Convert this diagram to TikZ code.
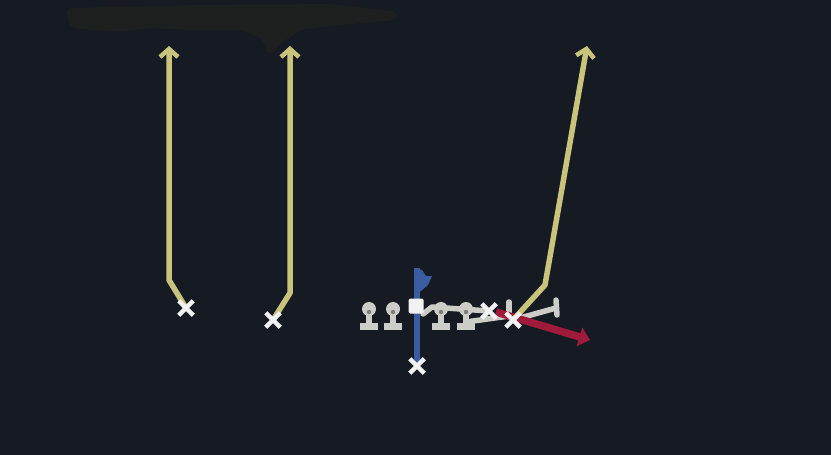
\documentclass[tikz,border=0pt]{standalone}
\usetikzlibrary{arrows.meta,shapes.misc}
\definecolor{bgc}{RGB}{22,26,35}
\definecolor{blobc}{RGB}{29,32,30}
\definecolor{routec}{RGB}{200,196,124}
\definecolor{bluec}{RGB}{58,92,160}
\definecolor{redc}{RGB}{160,26,60}
\definecolor{grayc}{RGB}{205,205,200}
\definecolor{xc}{RGB}{242,242,242}
\tikzset{
  route/.style={draw=routec,line width=5.5pt,line join=round,
    -{Straight Barb[length=8pt,width=18pt,line width=4.5pt]}},
  blockline/.style={draw=grayc,line width=5.5pt,line join=round,line cap=round},
  xmark/.style={cross out,draw=xc,line width=4.5pt,minimum size=10pt,inner sep=0pt},
}
\begin{document}
\begin{tikzpicture}[x=1pt,y=-1pt]
\useasboundingbox (0,0) rectangle (831,455);
\fill[bgc] (0,0) rectangle (831,455);
% faint smudge at top
\fill[blobc,rounded corners=6pt] (66,8) -- (200,5) -- (330,4) -- (398,12) -- (396,20)
  -- (330,26) -- (300,30) -- (280,44) -- (268,56) -- (262,38) -- (240,30) -- (190,30)
  -- (150,28) -- (120,32) -- (95,30) -- (70,28) -- cycle;

% player positions
\coordinate (p1) at (186,308);
\coordinate (p2) at (273,320);
\coordinate (p3) at (513,320);
\coordinate (p4) at (489,311);
\coordinate (qb) at (417,366);
% route points
\coordinate (b1) at (169,280);
\coordinate (t1) at (169,46);
\coordinate (b2) at (290,293);
\coordinate (t2) at (290,46);
\coordinate (b3) at (545,285);
\coordinate (t3) at (587,46);
\coordinate (redstart) at (496,312);
\coordinate (redend) at (590,340);

% receiver routes
\draw[route] (p1) -- (b1) -- (t1);
\draw[route] (p2) -- (b2) -- (t2);

% blue line with flag
\coordinate (flagtop) at (417,268);
\draw[draw=bluec,line width=6pt] (flagtop) -- (qb);
\fill[bluec] (414,268) -- (422,270) -- (426,276) -- (432,276) -- (428,285) -- (421,291) -- (414,293) -- cycle;

% blocking lines
\draw[blockline] (423,314) -- (432,307) -- (p4);
\draw[blockline] (466,322) -- (509,316);
\draw[blockline] (509,302) -- (509,317);
\draw[blockline] (p3) -- (556,308);
\draw[blockline] (556,300) -- (557,315);

% linemen icons
\foreach \x in {369,393,441,466}{
  \fill[grayc] (\x,309) circle (7pt);
  \fill[grayc] (\x-3,309) rectangle (\x+3,327);
  \fill[grayc] (\x-9,323) rectangle (\x+9,330);
  \fill[grayc!55!bgc] (\x,312) circle (2.2pt);
}

% center
\node[fill=xc,minimum size=15pt,inner sep=0pt,rounded corners=1.5pt] (center) at (416,306) {};

% red arrow
\draw[draw=redc,line width=7.5pt,-{Triangle[length=11pt,width=19pt]}] (redstart) -- (redend);

% yellow route of p3
\draw[route] (p3) -- (b3) -- (t3);

% X marks
\node[xmark] (x1) at (p1) {};
\node[xmark] (x2) at (p2) {};
\node[xmark] (x3) at (p3) {};
\node[xmark] (x4) at (p4) {};
\node[xmark] (x5) at (qb) {};
\end{tikzpicture}
\end{document}
